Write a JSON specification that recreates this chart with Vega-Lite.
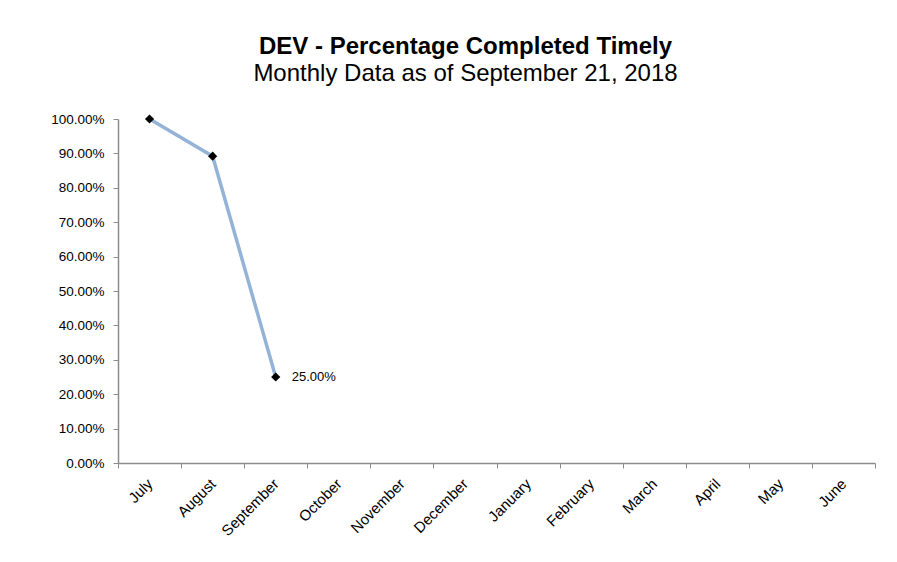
{
  "$schema": "https://vega.github.io/schema/vega-lite/v6.json",
  "width": 757,
  "height": 344,
  "autosize": {"type": "none"},
  "padding": {"left": 118, "top": 119, "right": 22, "bottom": 99},
  "background": "white",
  "config": {
    "view": {"stroke": null},
    "font": "Liberation Sans"
  },
  "title": {
    "text": "DEV - Percentage Completed Timely",
    "subtitle": "Monthly Data as of September 21, 2018",
    "anchor": "middle",
    "frame": "group",
    "dx": -31,
    "offset": 26,
    "font": "Liberation Sans",
    "fontSize": 24,
    "fontWeight": "bold",
    "color": "black",
    "subtitleFont": "Liberation Sans",
    "subtitleFontSize": 24,
    "subtitleColor": "black",
    "subtitlePadding": 3
  },
  "data": {
    "values": [
      {"month": "July", "pct": 1.0, "label": ""},
      {"month": "August", "pct": 0.892, "label": ""},
      {"month": "September", "pct": 0.25, "label": "25.00%"}
    ]
  },
  "encoding": {
    "x": {
      "field": "month",
      "type": "ordinal",
      "sort": null,
      "scale": {
        "type": "band",
        "domain": ["July", "August", "September", "October", "November", "December", "January", "February", "March", "April", "May", "June"],
        "paddingInner": 0,
        "paddingOuter": 0
      },
      "axis": {
        "title": null,
        "labelAngle": -45,
        "labelAlign": "right",
        "labelBaseline": "middle",
        "labelFont": "Liberation Sans",
        "labelFontSize": 15,
        "labelColor": "black",
        "labelPadding": 13,
        "tickBand": "extent",
        "tickSize": 5,
        "tickColor": "#8c8c8c",
        "domainColor": "#8c8c8c",
        "domainWidth": 1.5,
        "grid": false
      }
    },
    "y": {
      "field": "pct",
      "type": "quantitative",
      "scale": {"domain": [0, 1], "nice": false, "zero": true},
      "axis": {
        "title": null,
        "format": ".2%",
        "values": [0, 0.1, 0.2, 0.3, 0.4, 0.5, 0.6, 0.7, 0.8, 0.9, 1.0],
        "labelFont": "Liberation Sans",
        "labelFontSize": 13.5,
        "labelColor": "black",
        "labelPadding": 9,
        "tickSize": 5,
        "tickColor": "#8c8c8c",
        "domainColor": "#8c8c8c",
        "domainWidth": 1.5,
        "grid": false
      }
    }
  },
  "layer": [
    {"mark": {"type": "line", "color": "#95B3D7", "strokeWidth": 3.5}},
    {"mark": {"type": "point", "shape": "diamond", "filled": true, "color": "black", "size": 85, "opacity": 1}},
    {"mark": {"type": "text", "align": "left", "baseline": "middle", "dx": 16, "fontSize": 13, "font": "Liberation Sans", "color": "black"},
     "encoding": {"text": {"field": "label"}}}
  ]
}
